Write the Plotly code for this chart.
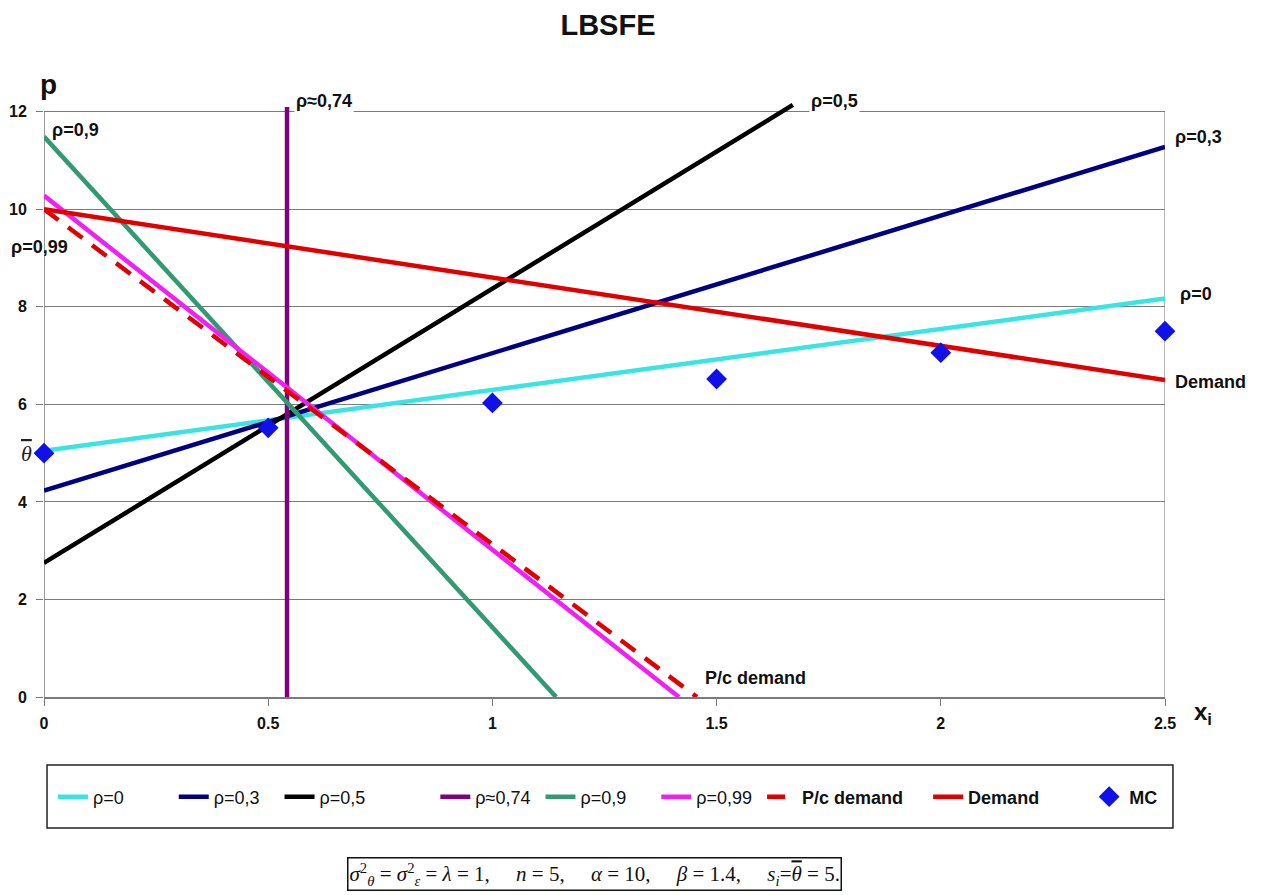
import plotly.graph_objects as go

# ---- data ----
x_rho0 = [0.0, 2.5];   y_rho0 = [5.05, 8.17]
x_rho03 = [0.0, 2.5];  y_rho03 = [4.23, 11.28]
x_rho05 = [0.0, 1.67]; y_rho05 = [2.75, 12.14]
x_rho074 = [0.542, 0.542]; y_rho074 = [0.0, 12.1]
x_rho09 = [0.0, 1.142]; y_rho09 = [11.49, 0.0]
x_rho099 = [0.0, 1.416]; y_rho099 = [10.28, 0.0]
x_pc = [0.0, 1.456];   y_pc = [10.0, 0.0]
x_dem = [0.0, 2.5];    y_dem = [10.0, 6.5]
x_mc = [0, 0.5, 1, 1.5, 2, 2.5]
y_mc = [5.0, 5.52, 6.03, 6.52, 7.06, 7.5]

x_ticks = [0, 0.5, 1, 1.5, 2, 2.5]
x_ticklabels = ["0", "0.5", "1", "1.5", "2", "2.5"]
y_ticks = [0, 2, 4, 6, 8, 10, 12]

XMAX = 2.5
YMAX = 12.2
FONT = "Liberation Sans, Arial, sans-serif"
LW = 4.5

fig = go.Figure()

def pad(n):
    return "&nbsp;" * n

def line(x, y, name, color, dash="solid"):
    fig.add_trace(go.Scatter(x=x, y=y, mode="lines", name=name,
                             line=dict(color=color, width=LW, dash=dash)))

line(x_rho0, y_rho0, "ρ=0" + pad(9), "#3ce3e3")
line(x_rho03, y_rho03, "ρ=0,3" + pad(3), "#000080")
line(x_rho05, y_rho05, "ρ=0,5" + pad(13), "#000000")
line(x_rho074, y_rho074, "ρ≈0,74" + pad(1), "#800080")
line(x_rho09, y_rho09, "ρ=0,9" + pad(5), "#339973")
line(x_rho099, y_rho099, "ρ=0,99" + pad(1), "#f020f0")
line(x_pc, y_pc, "<b>P/c demand</b>" + pad(4), "#e00000", dash="18px,12px")
line(x_dem, y_dem, "<b>Demand</b>" + pad(9), "#e00000")
fig.add_trace(go.Scatter(x=x_mc, y=y_mc, mode="markers", name="<b>MC</b>",
                         marker=dict(symbol="diamond", size=16, color="#1010e8"),
                         cliponaxis=False))

# frame pieces
GRID = "#7a7a7a"
fig.add_shape(type="line", x0=2.5, x1=2.5, y0=0, y1=12, xref="x", yref="y",
              line=dict(color="#a0a0a0", width=1.5), layer="below")
fig.add_shape(type="line", x0=0, x1=0, y0=0, y1=12, xref="x", yref="y",
              line=dict(color=GRID, width=1.5), layer="below")
# legend box
fig.add_shape(type="rect", xref="paper", yref="paper",
              x0=0.0027, x1=1.0071, y0=-0.2202, y1=-0.1143,
              line=dict(color="#222", width=1.5), fillcolor="white", layer="below")

ann = []
def lab(text, xd, yd, size=18, bg=None):
    d = dict(text=text, x=xd / XMAX, y=yd / YMAX, xref="paper", yref="paper",
             showarrow=False, xanchor="left", yanchor="middle",
             font=dict(family=FONT, size=size, color="#111"))
    if bg:
        d["bgcolor"] = bg
    ann.append(d)

lab("<b>ρ=0,9</b>", 0.014, 11.63)
lab("<b>ρ=0,99</b>", -0.077, 9.23)
lab("<b>ρ≈0,74</b>", 0.557, 12.22, bg="white")
lab("<b>ρ=0,5</b>", 1.706, 12.22, bg="white")
lab("<b>ρ=0,3</b>", 2.518, 11.49)
lab("<b>ρ=0</b>", 2.53, 8.27)
lab("<b>Demand</b>", 2.518, 6.46)
lab("<b>P/c demand</b>", 1.47, 0.39)

THETA_BAR = '<span style="text-decoration:overline">θ</span>'
ann.append(dict(text="<i>" + THETA_BAR + "</i>", x=-0.0152, y=5.0 / YMAX,
                xref="paper", yref="paper",
                showarrow=False, xanchor="center", yanchor="middle",
                font=dict(family="Liberation Serif, serif", size=22, color="#222")))
ann.append(dict(text="<b>p</b>", x=0.0036, y=1.0286, xref="paper", yref="paper",
                showarrow=False, xanchor="center", yanchor="middle",
                font=dict(family=FONT, size=28, color="#111")))
ann.append(dict(text="<b>x<sub>i</sub></b>", x=1.034, y=-0.028, xref="paper", yref="paper",
                showarrow=False, xanchor="center", yanchor="middle",
                font=dict(family=FONT, size=24, color="#111")))
EQ = "&nbsp;=&nbsp;"
SP = pad(5)
formula = ("<i>σ</i><sup>2</sup><sub><i>θ</i></sub>" + EQ + "<i>σ</i><sup>2</sup><sub><i>ε</i></sub>"
           + EQ + "<i>λ</i>" + EQ + "1," + SP + "<i>n</i>" + EQ + "5," + SP
           + "<i>α</i>" + EQ + "10," + SP + "<i>β</i>" + EQ + "1.4," + SP
           + "<i>s</i><sub><i>i</i></sub>=<i>" + THETA_BAR + "</i>" + EQ + "5.")
ann.append(dict(text=formula,
                x=0.4915, y=-0.2975, xref="paper", yref="paper", showarrow=False,
                xanchor="center", yanchor="middle",
                font=dict(family="Liberation Serif, serif", size=21, color="#111"),
                bordercolor="#111", borderwidth=1.5, borderpad=1, bgcolor="white"))

TICKFONT = dict(family=FONT, size=16, color="#111", weight="bold")

fig.update_layout(
    width=1256, height=887,
    margin=dict(l=36, r=99, t=94, b=198, autoexpand=False),
    paper_bgcolor="white", plot_bgcolor="white",
    title=dict(text="<b>LBSFE</b>", x=0.4777, y=0.981, xanchor="center", yanchor="middle",
               font=dict(family=FONT, size=29, color="#111")),
    annotations=ann,
    showlegend=True,
    legend=dict(orientation="h", x=0.008, xanchor="left", y=-0.168, yanchor="middle",
                font=dict(family=FONT, size=18, color="#111"),
                bgcolor="rgba(0,0,0,0)", borderwidth=0),
    xaxis=dict(range=[0, XMAX], tickvals=x_ticks, ticktext=x_ticklabels, automargin=False,
               showgrid=False, zeroline=False, showline=True, linecolor=GRID, linewidth=1.5,
               ticks="outside", ticklen=7, tickcolor=GRID,
               tickfont=TICKFONT, ticklabelstandoff=4),
    yaxis=dict(range=[0, YMAX], tickvals=y_ticks, automargin=False,
               showgrid=True, gridcolor=GRID, gridwidth=1, zeroline=False, showline=False,
               ticks="outside", ticklen=7, tickcolor=GRID,
               tickfont=TICKFONT, ticklabelstandoff=6),
)

fig.write_html("out.html")
